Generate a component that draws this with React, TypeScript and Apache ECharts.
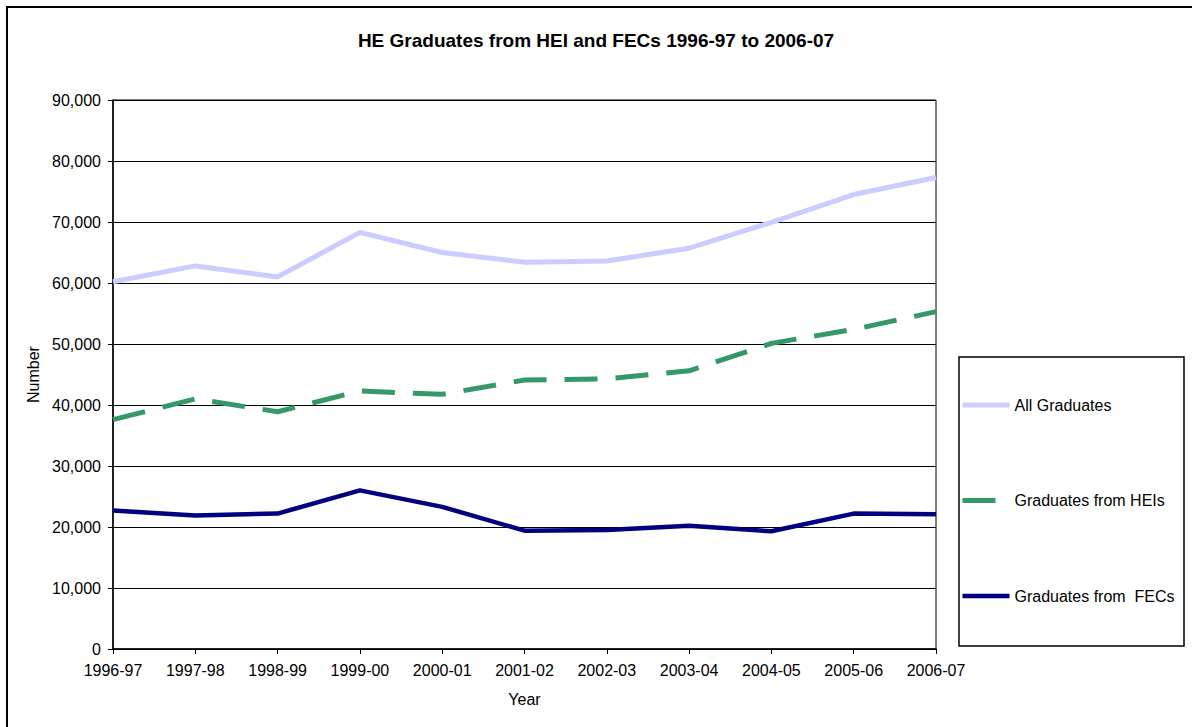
import React, { useEffect, useRef } from "react";
import * as echarts from "echarts";

const categories = ["1996-97", "1997-98", "1998-99", "1999-00", "2000-01", "2001-02", "2002-03", "2003-04", "2004-05", "2005-06", "2006-07"];
const allGraduates = [60200, 62800, 61000, 68300, 65000, 63400, 63600, 65700, 69950, 74500, 77300];
const heiGraduates = [37600, 41000, 38900, 42300, 41750, 44100, 44300, 45600, 50100, 52400, 55300];
const fecGraduates = [22700, 21900, 22200, 26000, 23300, 19400, 19500, 20200, 19300, 22200, 22100];
const seriesNames = ["All Graduates", "Graduates from HEIs", "Graduates from  FECs"];
const yMin = 0;
const yMax = 90000;
const yInterval = 10000;

const FONT = "'Liberation Sans', Arial, sans-serif";
const colors = ["#CCCCFF", "#339966", "#000080"];
const dash = [33, 18];

export default function App() {
  const ref = useRef<HTMLDivElement>(null);
  useEffect(() => {
    if (!ref.current) return;
    const chart = echarts.init(ref.current, null, { renderer: "svg" });
    chart.setOption({
      animation: false,
      backgroundColor: "#ffffff",
      title: {
        text: "HE Graduates from HEI and FECs 1996-97 to 2006-07",
        left: "center",
        top: 26,
        textStyle: { fontFamily: FONT, fontSize: 19, fontWeight: "bold", color: "#000" },
      },
      graphic: [
        {
          type: "rect",
          shape: { x: 7, y: 7, width: 1300, height: 900 },
          style: { fill: "none", stroke: "#000", lineWidth: 2 },
          silent: true,
        },
        {
          type: "rect",
          shape: { x: 959, y: 357, width: 225, height: 289 },
          style: { fill: "none", stroke: "#000", lineWidth: 1.5 },
          silent: true,
        },
      ],
      grid: {
        left: 113,
        right: 256,
        top: 100,
        bottom: 78,
        show: true,
        borderColor: "#000",
        borderWidth: 1,
        containLabel: false,
      },
      legend: {
        orient: "vertical",
        left: 959,
        top: 357,
        padding: [40, 0, 43, 1],
        itemGap: 79.5,
        itemWidth: 47,
        itemHeight: 14,
        borderWidth: 0,
        itemStyle: { opacity: 0 },
        textStyle: { fontFamily: FONT, fontSize: 16, color: "#000" },
        data: [
          { name: seriesNames[0], lineStyle: { color: colors[0], width: 5, type: "solid" } },
          { name: seriesNames[1], lineStyle: { color: colors[1], width: 5, type: dash } },
          { name: seriesNames[2], lineStyle: { color: colors[2], width: 4.5, type: "solid" } },
        ],
      },
      xAxis: {
        type: "category",
        data: categories,
        boundaryGap: false,
        name: "Year",
        nameLocation: "middle",
        nameGap: 42,
        nameTextStyle: { fontFamily: FONT, fontSize: 16, color: "#000" },
        axisLine: { lineStyle: { color: "#000", width: 1.5 } },
        axisTick: { show: true, length: 5, lineStyle: { color: "#000" } },
        axisLabel: { fontFamily: FONT, fontSize: 16, color: "#000", margin: 13, interval: 0 },
        splitLine: { show: false },
      },
      yAxis: {
        type: "value",
        min: yMin,
        max: yMax,
        interval: yInterval,
        name: "Number",
        nameLocation: "middle",
        nameRotate: 90,
        nameGap: 68,
        nameTextStyle: { fontFamily: FONT, fontSize: 16, color: "#000" },
        axisLine: { show: true, lineStyle: { color: "#000", width: 1.5 } },
        axisTick: { show: true, length: 5, lineStyle: { color: "#000" } },
        axisLabel: {
          fontFamily: FONT,
          fontSize: 16,
          color: "#000",
          margin: 12,
          formatter: (v: number) => v.toLocaleString("en-US"),
        },
        splitLine: { show: true, lineStyle: { color: "#000", width: 1 } },
      },
      series: [
        {
          name: seriesNames[0],
          type: "line",
          data: allGraduates,
          symbol: "none",
          color: colors[0],
          lineStyle: { color: colors[0], width: 5 },
        },
        {
          name: seriesNames[1],
          type: "line",
          data: heiGraduates,
          symbol: "none",
          color: colors[1],
          lineStyle: { color: colors[1], width: 5, type: dash },
        },
        {
          name: seriesNames[2],
          type: "line",
          data: fecGraduates,
          symbol: "none",
          color: colors[2],
          lineStyle: { color: colors[2], width: 4.5 },
        },
      ],
    });
    return () => chart.dispose();
  }, []);
  return (
    <div
      ref={ref}
      style={{ position: "fixed", left: 0, top: 0, width: 1192, height: 727, background: "#fff" }}
    />
  );
}
